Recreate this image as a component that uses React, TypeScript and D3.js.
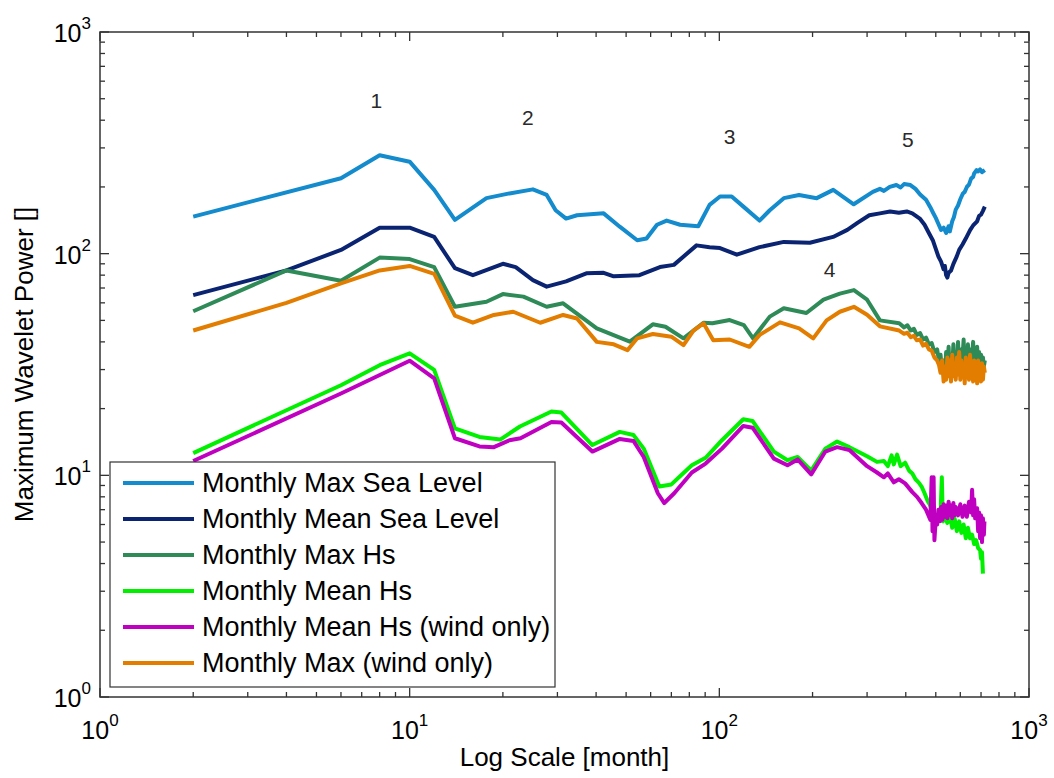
import React, { useEffect, useRef } from "react";
import * as d3 from "d3";

type Pt = [number, number];

// [month, maximum wavelet power]
const maxSeaLevel: Pt[] = [
  [2, 147], [6, 219], [8, 278], [10, 260], [12, 194], [14, 142], [17.7, 178], [21, 187],
  [25, 195], [27.7, 184], [29.6, 157], [32, 144], [34.7, 149], [42.3, 152], [47.8, 132],
  [54.3, 115], [58.2, 117], [62.9, 135], [67.6, 141], [74.7, 135], [85.5, 133], [93, 166],
  [100.5, 181], [109.6, 181], [119.6, 163], [134.8, 141], [145.5, 157], [161.5, 178],
  [180.9, 184], [206.3, 178], [233.3, 194], [271.6, 167], [313, 190], [330, 196], [340, 192],
  [355, 200], [373, 204], [385, 199], [395, 206], [414, 204], [430, 196], [445, 185],
  [465, 175], [480, 162], [490, 153], [500, 145], [510, 136], [520, 128], [530, 131],
  [540, 124], [550, 133], [555, 126], [565, 140], [572, 146], [580, 158], [590, 165],
  [600, 176], [612, 187], [620, 190], [630, 200], [640, 205], [650, 218], [660, 222],
  [665, 230], [677, 238], [685, 235], [695, 240], [705, 233], [720, 238],
];

const meanSeaLevel: Pt[] = [
  [2, 65], [4, 84], [6, 104], [8, 131], [10, 131], [12, 119], [14, 86], [16, 80], [20, 90],
  [22, 87], [25, 76], [27.7, 71], [32, 75], [37.2, 81.5], [42.3, 82], [45.6, 79], [55.2, 80],
  [64.3, 87], [71.3, 89], [84.4, 109], [93, 107], [100.5, 106], [113.9, 99], [134.8, 107],
  [161.5, 113], [196, 112], [233, 119], [259, 128], [280, 138], [305, 149], [330, 152],
  [356, 155], [380, 153], [403, 155], [420, 152], [444, 144], [460, 135], [475, 124],
  [489, 115], [500, 105], [510, 97], [520, 92], [530, 85], [535, 88], [540, 80], [545, 78],
  [550, 82], [560, 84], [570, 90], [584, 97], [595, 104], [610, 110], [625, 117], [646, 128],
  [660, 134], [680, 140], [690, 148], [700, 150], [710, 156], [720, 163],
];

const maxHs: Pt[] = [
  [2, 55], [4, 84], [6, 75.5], [8, 96], [10, 94.5], [12, 87], [14, 57.6], [17.7, 60.7],
  [20, 65.7], [23.3, 64], [27.7, 57.6], [31.3, 59.7], [40.2, 46], [51.4, 40.1], [61, 48],
  [67, 46.8], [76.6, 41.5], [88.9, 48.8], [95, 48.5], [108, 50.2], [120, 47.6], [128.5, 41.5],
  [145.5, 52], [161.5, 56.7], [191, 54], [217, 62], [245, 66], [272, 68.5], [300, 62],
  [330, 50], [381, 48.5], [395, 46.5], [405, 47.5], [415, 45], [425, 45.8], [434, 43],
  [445, 43.8], [455, 41], [465, 41.8], [475, 39], [485, 39.5], [495, 36], [505, 37],
  [512, 33], [518, 35], [524, 29.5], [530, 33], [535, 28], [540, 36], [545, 30], [550, 38],
  [555, 29], [560, 34], [565, 31], [570, 39], [575, 30], [580, 36], [585, 29], [590, 40],
  [595, 31], [600, 37], [605, 29], [610, 34], [615, 41], [620, 30], [625, 36], [630, 28],
  [635, 39], [640, 31], [645, 37], [650, 29], [655, 35], [660, 40], [665, 30], [670, 36],
  [675, 28], [680, 38], [685, 31], [690, 36], [695, 29], [700, 35], [705, 30], [710, 34],
  [715, 31], [720, 33],
];

const meanHs: Pt[] = [
  [2, 12.6], [6, 25.5], [8, 31.4], [10, 35.5], [12, 29.9], [14, 16.3], [16.8, 14.9],
  [19.6, 14.5], [22.7, 16.6], [28.7, 19.4], [30.9, 19.2], [38.9, 13.7], [47.7, 15.7],
  [52.8, 15.2], [57, 13.2], [64, 8.9], [70, 9.1], [81.5, 11.1], [90.3, 12], [102, 14.4],
  [119.5, 17.9], [128, 17.6], [150, 12.8], [166, 11.7], [179, 12.1], [198, 10.5], [220, 13.2],
  [240, 14.2], [263, 13.4], [280, 12.8], [300, 12.2], [323, 11.5], [340, 11.6], [350, 11],
  [360, 12.3], [366, 11.2], [375, 12.4], [385, 11], [398, 11.4], [410, 10.5], [420, 10.2],
  [430, 9.6], [440, 9.3], [450, 8.9], [460, 8.3], [470, 7.7], [480, 7.3], [490, 6.8],
  [498, 6.5], [510, 6.3], [518, 6.6], [523, 9.8], [527, 6.2], [535, 6.5], [545, 6.1],
  [555, 6.6], [565, 5.8], [575, 6.4], [585, 5.6], [595, 6.2], [605, 5.5], [615, 6],
  [625, 5.2], [635, 5.8], [645, 5.2], [655, 5.4], [665, 4.9], [675, 5.1], [685, 4.7],
  [695, 4.6], [700, 4.2], [705, 4.5], [710, 3.6],
];

const meanHsWind: Pt[] = [
  [2, 11.6], [6, 23.4], [10, 32.9], [12, 27.4], [14, 14.7], [16.8, 13.5], [18.7, 13.4],
  [21, 14.4], [22.8, 14.7], [28.7, 17.4], [30.9, 17.3], [38.9, 12.8], [47.7, 14.6],
  [52.8, 14.3], [57, 12.1], [63.3, 8.3], [66.4, 7.5], [71.5, 8.3], [81.5, 10.3], [90.3, 11.3],
  [102, 13.2], [119.5, 16.7], [128, 16.4], [150, 11.9], [166, 11.1], [179, 11.8], [198, 10.1],
  [220, 12.8], [240, 13.4], [263, 13], [280, 12], [300, 11], [323, 10.3], [340, 9.8],
  [350, 10.2], [366, 9.3], [380, 9.6], [398, 9.2], [420, 8.4], [435, 8], [450, 7.5],
  [465, 7], [480, 6.3], [485, 9.8], [488, 5.6], [492, 9.8], [495, 5.1], [500, 6.4], [505, 6],
  [510, 7], [515, 6.2], [520, 7.2], [525, 6.3], [530, 7.4], [535, 6.5], [540, 7.3],
  [545, 6.4], [550, 7.6], [555, 6.6], [560, 7.3], [565, 6.4], [570, 7.5], [575, 6.6],
  [580, 7.2], [590, 6.6], [600, 7.4], [610, 6.5], [620, 7.3], [630, 6.5], [640, 7.6],
  [650, 6.8], [655, 8.6], [660, 6.6], [665, 7.8], [670, 6.4], [680, 7.1], [685, 5.6],
  [690, 6.8], [695, 5.2], [700, 6.6], [705, 5], [710, 6.4], [715, 5.4], [718, 6.2],
];

const maxWind: Pt[] = [
  [2, 45], [4, 60], [6, 73.5], [8, 84], [10, 88], [12, 81], [14, 52.5], [16, 48.8],
  [18.7, 52.9], [21.6, 54.7], [26.4, 48.8], [31.3, 52.9], [34.7, 51], [40.2, 40], [45.6, 39],
  [50.5, 36.7], [54.3, 41.5], [61, 43.4], [70, 42.2], [76.6, 38.7], [82.5, 45], [88.9, 48.5],
  [95.6, 40.7], [108, 41], [125, 38], [135, 43], [157, 49], [181, 46], [201, 41.5], [222, 50],
  [245, 54.7], [272, 57.6], [300, 53], [330, 47], [381, 45], [395, 43.5], [405, 44],
  [415, 42], [425, 42.6], [434, 40.7], [445, 41], [455, 38.5], [465, 39.2], [475, 37],
  [485, 36.5], [495, 34], [505, 33], [512, 31.5], [518, 29], [524, 33], [530, 26.5],
  [535, 31], [540, 27], [545, 34], [550, 28], [555, 33], [560, 26.5], [565, 35], [570, 28],
  [575, 32], [580, 27], [585, 34], [590, 28.5], [595, 36], [600, 27], [605, 33], [610, 28],
  [615, 31], [620, 26], [625, 34], [630, 28], [635, 32], [640, 27], [645, 35], [650, 28],
  [655, 31], [660, 26.5], [665, 33], [670, 28], [675, 32], [680, 26], [685, 33], [690, 28],
  [695, 31], [700, 26.5], [705, 32], [710, 27], [715, 31], [720, 29],
];

const seriesNames = [
  "Monthly Max Sea Level",
  "Monthly Mean Sea Level",
  "Monthly Max Hs",
  "Monthly Mean Hs",
  "Monthly Mean Hs (wind only)",
  "Monthly Max (wind only)",
];
const seriesColors = ["#138bcc", "#0a2472", "#2e8b57", "#00f000", "#c000c0", "#e27d00"];
const seriesData = [maxSeaLevel, meanSeaLevel, maxHs, meanHs, meanHsWind, maxWind];

const decades = [1, 10, 100, 1000];
const exponents = ["0", "1", "2", "3"];

// peak labels, placed in data coordinates
const peakLabels = ["1", "2", "3", "4", "5"];
const peakMonths = [7.8, 24.1, 108, 227, 406];
const peakPowers = [490, 413, 336, 84.4, 329];

const App = () => {
  const svgRef = useRef<SVGSVGElement>(null);

  useEffect(() => {
    const width = 1054;
    const height = 778;
    const margin = { top: 32, right: 25, bottom: 81, left: 100 };
    const font = "'Liberation Sans', Arial, Helvetica, sans-serif";

    const svg = d3.select(svgRef.current);
    svg.selectAll("*").remove();
    svg.attr("width", width).attr("height", height);

    const x = d3.scaleLog().domain([1, 1000]).range([margin.left, width - margin.right]);
    const y = d3.scaleLog().domain([1, 1000]).range([height - margin.bottom, margin.top]);
    const [x0, x1] = x.range();
    const [y0, y1] = y.range(); // y0 bottom, y1 top

    svg.append("rect").attr("width", width).attr("height", height).attr("fill", "#fff");

    svg.append("defs").append("clipPath").attr("id", "plot-clip")
      .append("rect").attr("x", x0).attr("y", y1).attr("width", x1 - x0).attr("height", y0 - y1);

    // series
    const line = d3.line<Pt>().x((d) => x(d[0])).y((d) => y(d[1]));
    const plot = svg.append("g").attr("clip-path", "url(#plot-clip)");
    seriesData.forEach((data, i) => {
      plot.append("path")
        .datum(data)
        .attr("d", line)
        .attr("fill", "none")
        .attr("stroke", seriesColors[i])
        .attr("stroke-width", 4)
        .attr("stroke-linejoin", "round");
    });

    // peak numbers
    svg.append("g").selectAll("text")
      .data(peakLabels)
      .enter()
      .append("text")
      .attr("x", (_, i) => x(peakMonths[i]))
      .attr("y", (_, i) => y(peakPowers[i]))
      .attr("text-anchor", "middle")
      .attr("dominant-baseline", "central")
      .attr("font-family", font)
      .attr("font-size", 21)
      .attr("fill", "#2a2a2a")
      .text((d) => d);

    // frame + inner ticks on every side
    const axisColor = "#333";
    const tickVals: { v: number; major: boolean }[] = [];
    decades.slice(0, 3).forEach((d) => {
      for (let m = 1; m <= 9; m++) tickVals.push({ v: d * m, major: m === 1 });
    });
    tickVals.push({ v: 1000, major: true });

    const ticks = svg.append("g").attr("stroke", axisColor).attr("stroke-width", 1.3);
    tickVals.forEach((t) => {
      const len = t.major ? 9 : 5;
      const px = x(t.v);
      const py = y(t.v);
      ticks.append("line").attr("x1", px).attr("x2", px).attr("y1", y0).attr("y2", y0 - len);
      ticks.append("line").attr("x1", px).attr("x2", px).attr("y1", y1).attr("y2", y1 + len);
      ticks.append("line").attr("x1", x0).attr("x2", x0 + len).attr("y1", py).attr("y2", py);
      ticks.append("line").attr("x1", x1).attr("x2", x1 - len).attr("y1", py).attr("y2", py);
    });
    svg.append("rect")
      .attr("x", x0).attr("y", y1).attr("width", x1 - x0).attr("height", y0 - y1)
      .attr("fill", "none").attr("stroke", axisColor).attr("stroke-width", 1.5);

    // tick labels 10^n
    const labels = svg.append("g").attr("font-family", font).attr("fill", "#000");
    decades.forEach((d, i) => {
      const t = labels.append("text")
        .attr("x", x(d)).attr("y", y0 + 42)
        .attr("text-anchor", "middle")
        .attr("font-size", 25);
      t.append("tspan").text("10");
      t.append("tspan").attr("font-size", 17).attr("dy", -13).text(exponents[i]);
    });
    decades.forEach((d, i) => {
      const t = labels.append("text")
        .attr("x", x0 - 9).attr("y", y(d) + 10)
        .attr("text-anchor", "end")
        .attr("font-size", 25);
      t.append("tspan").text("10");
      t.append("tspan").attr("font-size", 17).attr("dy", -13).text(exponents[i]);
    });

    // axis titles
    svg.append("text")
      .attr("x", (x0 + x1) / 2).attr("y", 766)
      .attr("text-anchor", "middle")
      .attr("font-family", font).attr("font-size", 26)
      .text("Log Scale [month]");
    svg.append("text")
      .attr("transform", `translate(33, ${(y0 + y1) / 2}) rotate(-90)`)
      .attr("text-anchor", "middle")
      .attr("font-family", font).attr("font-size", 26)
      .text("Maximum Wavelet Power []");

    // legend
    const lg = svg.append("g");
    lg.append("rect")
      .attr("x", 110).attr("y", 462).attr("width", 445).attr("height", 225)
      .attr("fill", "#fff").attr("stroke", axisColor).attr("stroke-width", 1.2);
    seriesNames.forEach((name, i) => {
      const cy = 483 + i * 36;
      lg.append("line")
        .attr("x1", 123).attr("x2", 194).attr("y1", cy).attr("y2", cy)
        .attr("stroke", seriesColors[i]).attr("stroke-width", 4);
      lg.append("text")
        .attr("x", 202).attr("y", cy)
        .attr("dominant-baseline", "central")
        .attr("font-family", font).attr("font-size", 27)
        .text(name);
    });
  }, []);

  return <svg ref={svgRef} style={{ position: "absolute", left: 0, top: 0 }}></svg>;
};

export default App;
